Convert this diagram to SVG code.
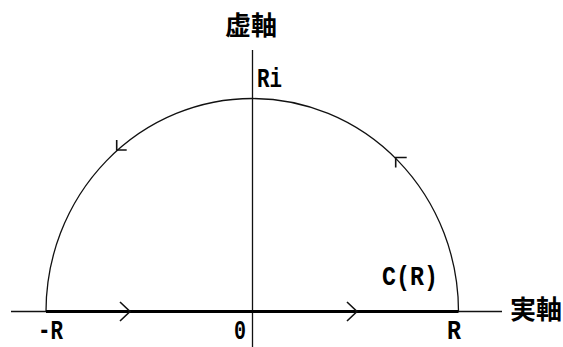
<svg xmlns="http://www.w3.org/2000/svg" width="563" height="347" viewBox="0 0 563 347">
<style>
.ln{fill:none;stroke:#111;stroke-width:1.3}
.thick{fill:none;stroke:#000;stroke-width:3}
.ar{fill:none;stroke:#111;stroke-width:1.6}
.lbl{font-family:"Liberation Mono",monospace;font-weight:bold;font-size:28px;fill:#000}
.cjk{font-family:"Noto Sans CJK JP",sans-serif;font-weight:bold;font-size:26px;fill:#000}
</style>
<rect width="563" height="347" fill="#fff"/>
<g id="connectors">
<line class="ln" x1="11" y1="311.5" x2="502" y2="311.5"/>
<line class="ln" x1="252.5" y1="50" x2="252.5" y2="347"/>
<path class="ln" d="M46 311.5 A206.25 213 0 0 1 458.5 311.5"/>
<path class="thick" d="M46 311.5 H458.5"/>
<polyline class="ar" points="120,302 130,311.5 120,321"/>
<polyline class="ar" points="347,302 357,311.5 347,321"/>
<polyline class="ar" points="116.7,140 116.7,150 126.7,150"/>
<polyline class="ar" points="406.7,157.5 395.7,157.5 395.7,167.5"/>
</g>
<g id="imag-axis-label"><text class="cjk" x="225" y="35">虚軸</text></g>
<g id="real-axis-label"><text class="cjk" x="510" y="319">実軸</text></g>
<g id="Ri"><text class="lbl" x="257" y="87" textLength="25" lengthAdjust="spacingAndGlyphs">Ri</text></g>
<g id="minusR"><text class="lbl" x="38" y="338.5" textLength="25" lengthAdjust="spacingAndGlyphs">-R</text></g>
<g id="zero"><text class="lbl" x="234" y="338.5" textLength="12" lengthAdjust="spacingAndGlyphs">0</text></g>
<g id="R"><text class="lbl" x="447" y="338.5" textLength="14" lengthAdjust="spacingAndGlyphs">R</text></g>
<g id="CR"><text class="lbl" x="382" y="285" textLength="56" lengthAdjust="spacingAndGlyphs">C(R)</text></g>
</svg>
